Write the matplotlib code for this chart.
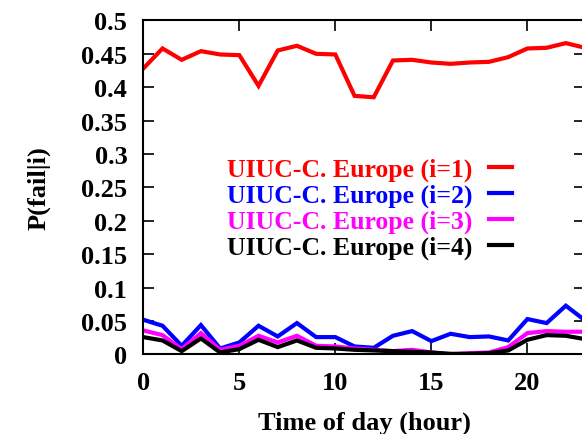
import numpy as np
import matplotlib
matplotlib.use('Agg')
import matplotlib.pyplot as plt

# hour of day
hours = list(range(24))

# P(fail|i) for UIUC - C. Europe
fail_i1 = [0.428, 0.458, 0.441, 0.454, 0.449, 0.448, 0.402, 0.455, 0.462, 0.450,
           0.449, 0.387, 0.385, 0.440, 0.441, 0.437, 0.435, 0.437, 0.438, 0.445,
           0.458, 0.459, 0.466, 0.459]
fail_i2 = [0.052, 0.043, 0.013, 0.044, 0.009, 0.018, 0.043, 0.027, 0.047, 0.026,
           0.026, 0.012, 0.010, 0.028, 0.035, 0.020, 0.031, 0.026, 0.027, 0.021,
           0.053, 0.047, 0.073, 0.051]
fail_i3 = [0.036, 0.029, 0.008, 0.032, 0.007, 0.013, 0.028, 0.018, 0.028, 0.013,
           0.012, 0.009, 0.007, 0.005, 0.007, 0.003, 0.000, 0.002, 0.003, 0.011,
           0.032, 0.035, 0.034, 0.034]
fail_i4 = [0.026, 0.021, 0.005, 0.024, 0.003, 0.008, 0.022, 0.011, 0.021, 0.010,
           0.009, 0.007, 0.006, 0.005, 0.004, 0.003, 0.001, 0.001, 0.002, 0.006,
           0.022, 0.029, 0.028, 0.023]

series = [fail_i1, fail_i2, fail_i3, fail_i4]
labels = ['UIUC-C. Europe (i=1)', 'UIUC-C. Europe (i=2)',
          'UIUC-C. Europe (i=3)', 'UIUC-C. Europe (i=4)']
colors = ['#ff0000', '#0000ff', '#ff00ff', '#000000']

plt.rcParams['font.family'] = ['Liberation Serif', 'DejaVu Serif']
plt.rcParams['font.weight'] = 'bold'

fig = plt.figure(figsize=(5.82, 4.35), dpi=100)
# right edge of the frame sits just outside the picture, like the original
ax = fig.add_axes([0.2462, 0.1828, 0.759, 0.768])

for vals, lab, col in zip(series, labels, colors):
  ax.plot(hours, vals, color=col, lw=3, label=lab, solid_joinstyle='miter')

ax.set_xlim(0, 23)
ax.set_ylim(0, 0.5)
ax.set_xticks([0, 5, 10, 15, 20])
ax.set_yticks(np.arange(0, 0.51, 0.05))
ax.set_yticklabels(['0', '0.05', '0.1', '0.15', '0.2', '0.25', '0.3', '0.35', '0.4', '0.45', '0.5'])
ax.tick_params(direction='in', length=8, width=1.2, top=True, right=True, labelsize=19)
ax.tick_params(axis='y', pad=11.5)
ax.tick_params(axis='x', pad=12)
for lbl in ax.get_xticklabels() + ax.get_yticklabels():
  lbl.set_fontweight('bold')
for sp in ax.spines.values():
  sp.set_linewidth(1.5)

ax.set_xlabel('Time of day (hour)', fontsize=19, fontweight='bold', labelpad=12)
ax.set_ylabel('P(fail|i)', fontsize=19, fontweight='bold', labelpad=22)

leg = ax.legend(loc='center', bbox_to_anchor=(0.512, 0.437), frameon=False, markerfirst=False,
                labelcolor='linecolor', handlelength=0.9, handletextpad=0.65,
                labelspacing=0.1, prop={'family': 'Liberation Serif', 'weight': 'bold', 'size': 18.5})

fig.savefig('out.png', dpi=100)
